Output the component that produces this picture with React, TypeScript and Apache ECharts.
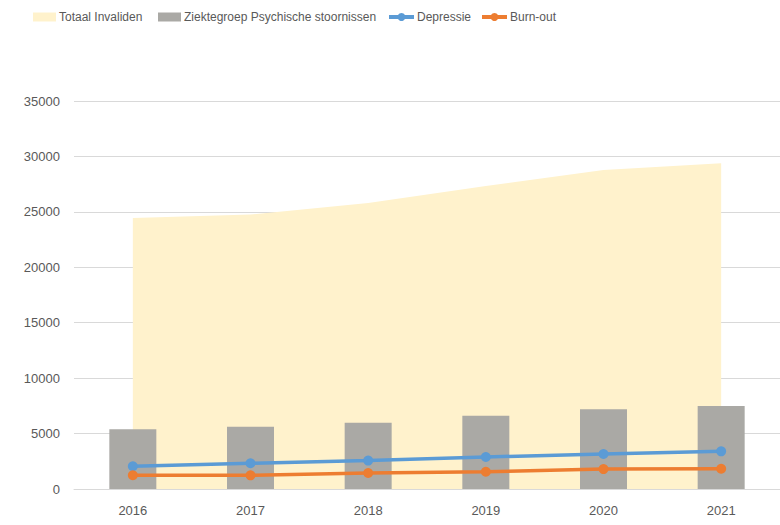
import React, { useEffect, useRef } from "react";
import * as echarts from "echarts";

const years = ["2016", "2017", "2018", "2019", "2020", "2021"];
const totaalInvaliden = [24450, 24760, 25800, 27330, 28780, 29380];
const psychischeStoornissen = [5390, 5620, 5980, 6610, 7190, 7490];
const depressie = [2050, 2320, 2560, 2890, 3160, 3400];
const burnOut = [1240, 1230, 1440, 1560, 1800, 1830];
const yTicks = [0, 5000, 10000, 15000, 20000, 25000, 30000, 35000];

const FONT = "'Liberation Sans', Arial, sans-serif";
const TXT = "#595959";

export default function App() {
  const ref = useRef<HTMLDivElement>(null);
  useEffect(() => {
    if (!ref.current) return;
    const chart = echarts.init(ref.current, undefined, { renderer: "svg" });
    const legendBase = {
      top: 6,
      itemGap: 0,
      textStyle: { color: TXT, fontSize: 12, fontFamily: FONT, padding: [0, 0, 0, -2] },
      selectedMode: false,
    };
    chart.setOption({
      animation: false,
      textStyle: { fontFamily: FONT },
      legend: [
        { ...legendBase, left: 28, itemWidth: 23, itemHeight: 9, data: [{ name: "Totaal Invaliden", icon: "rect" }] },
        { ...legendBase, left: 153, itemWidth: 23, itemHeight: 9, data: [{ name: "Ziektegroep Psychische stoornissen", icon: "rect" }] },
        {
          ...legendBase,
          left: 382,
          itemWidth: 25,
          itemHeight: 10,
          data: [{ name: "Depressie", lineStyle: { width: 4 } }],
        },
        {
          ...legendBase,
          left: 475,
          itemWidth: 25,
          itemHeight: 10,
          data: [{ name: "Burn-out", lineStyle: { width: 4 } }],
        },
      ],
      grid: { left: 74, top: 101, width: 710, bottom: 36, containLabel: false },
      xAxis: {
        type: "category",
        data: years,
        boundaryGap: true,
        axisLine: { lineStyle: { color: "#d9d9d9" } },
        axisTick: { show: false },
        axisLabel: { color: TXT, fontSize: 13, fontFamily: FONT, margin: 15 },
      },
      yAxis: {
        type: "value",
        min: yTicks[0],
        max: yTicks[yTicks.length - 1],
        interval: 5000,
        axisLabel: { color: TXT, fontSize: 13, fontFamily: FONT, margin: 14, formatter: (v: number) => String(v) },
        splitLine: { lineStyle: { color: "#d9d9d9" } },
        axisLine: { show: false },
        axisTick: { show: false },
      },
      series: [
        {
          name: "Totaal Invaliden",
          type: "line",
          data: totaalInvaliden,
          symbol: "none",
          lineStyle: { width: 0 },
          itemStyle: { color: "#fff2cc" },
          areaStyle: { color: "#fff2cc", opacity: 1 },
          z: 1,
        },
        {
          name: "Ziektegroep Psychische stoornissen",
          type: "bar",
          data: psychischeStoornissen,
          barWidth: 47,
          itemStyle: { color: "#aaa9a5" },
          z: 2,
        },
        {
          name: "Depressie",
          type: "line",
          data: depressie,
          symbol: "circle",
          symbolSize: 10,
          lineStyle: { width: 3.5, color: "#5b9bd5" },
          itemStyle: { color: "#5b9bd5" },
          z: 3,
        },
        {
          name: "Burn-out",
          type: "line",
          data: burnOut,
          symbol: "circle",
          symbolSize: 10,
          lineStyle: { width: 3.5, color: "#ed7d31" },
          itemStyle: { color: "#ed7d31" },
          z: 4,
        },
      ],
    });
    return () => chart.dispose();
  }, []);
  return <div ref={ref} style={{ width: 780, height: 525, position: "absolute", left: 0, top: 0 }} />;
}
